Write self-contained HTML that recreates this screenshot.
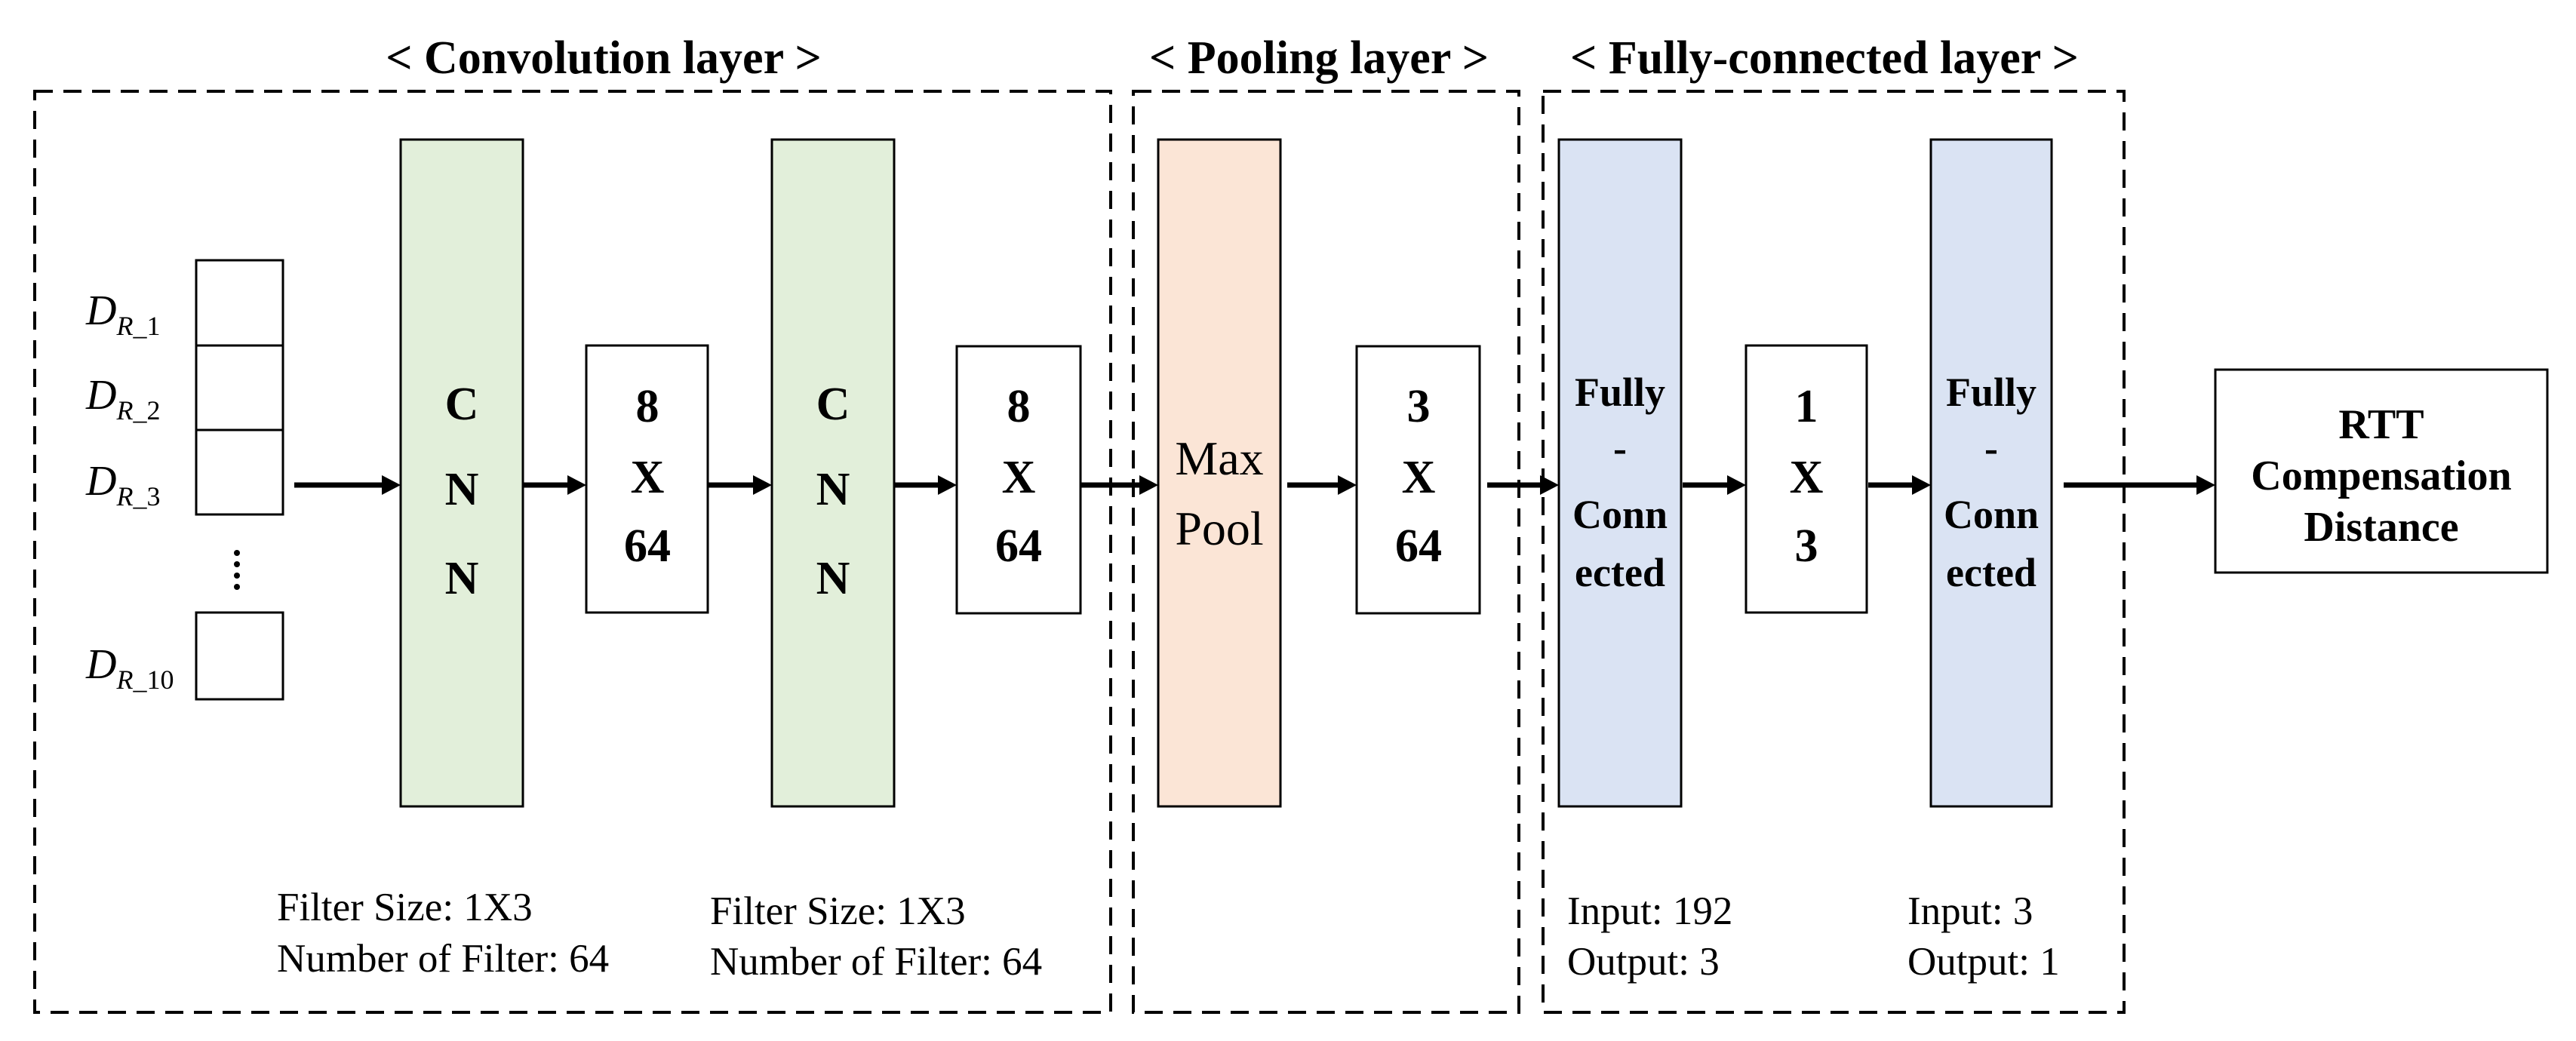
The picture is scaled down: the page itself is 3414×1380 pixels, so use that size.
<!DOCTYPE html>
<html><head><meta charset="utf-8"><style>
html,body{margin:0;padding:0;background:#fff;}
svg{display:block;}
text{font-family:"Liberation Serif",serif;}
.b{font-weight:bold;}
.m{font-family:"DejaVu Sans","Liberation Sans",sans-serif;}
</style></head><body>
<svg width="3414" height="1380" viewBox="0 0 3414 1380" xmlns="http://www.w3.org/2000/svg">
<!-- titles -->
<text x="800" y="97" font-size="62" class="b" text-anchor="middle">&lt; Convolution layer &gt;</text>
<text x="1748" y="97" font-size="62" class="b" text-anchor="middle">&lt; Pooling layer &gt;</text>
<text x="2418" y="97" font-size="62" class="b" text-anchor="middle">&lt; Fully-connected layer &gt;</text>
<!-- dashed boxes -->
<g fill="none" stroke="#000" stroke-width="4" stroke-dasharray="24 14">
<rect x="46" y="121" width="1426" height="1221"/>
<rect x="1502" y="121" width="511" height="1221"/>
<rect x="2045" y="121" width="770" height="1221"/>
</g>
<!-- input boxes -->
<g fill="#fff" stroke="#000" stroke-width="3">
<rect x="260" y="345" width="115" height="113"/>
<rect x="260" y="458" width="115" height="112"/>
<rect x="260" y="570" width="115" height="112"/>
<rect x="260" y="812" width="115" height="115"/>
</g>
<g fill="#000"><circle cx="314" cy="733" r="4"/><circle cx="314" cy="748" r="4"/><circle cx="314" cy="763" r="4"/><circle cx="314" cy="778" r="4"/></g>
<g class="m" font-size="56">
<text x="114" y="430"><tspan font-style="italic">D</tspan><tspan font-size="36" dy="14" font-style="italic">R</tspan><tspan font-size="36">_1</tspan></text>
<text x="114" y="542"><tspan font-style="italic">D</tspan><tspan font-size="36" dy="14" font-style="italic">R</tspan><tspan font-size="36">_2</tspan></text>
<text x="114" y="656"><tspan font-style="italic">D</tspan><tspan font-size="36" dy="14" font-style="italic">R</tspan><tspan font-size="36">_3</tspan></text>
<text x="114" y="899"><tspan font-style="italic">D</tspan><tspan font-size="36" dy="14" font-style="italic">R</tspan><tspan font-size="36">_10</tspan></text>
</g>
<!-- layers -->
<g stroke="#000" stroke-width="3">
<rect x="531" y="185" width="162" height="884" fill="#e2efda"/>
<rect x="1023" y="185" width="162" height="884" fill="#e2efda"/>
<rect x="777" y="458" width="161" height="354" fill="#fff"/>
<rect x="1268" y="459" width="164" height="354" fill="#fff"/>
<rect x="1535" y="185" width="162" height="884" fill="#fbe5d6"/>
<rect x="1798" y="459" width="163" height="354" fill="#fff"/>
<rect x="2066" y="185" width="162" height="884" fill="#dae3f3"/>
<rect x="2314" y="458" width="160" height="354" fill="#fff"/>
<rect x="2559" y="185" width="160" height="884" fill="#dae3f3"/>
<rect x="2936" y="490" width="440" height="269" fill="#fff"/>
</g>
<g class="b" font-size="62" text-anchor="middle" font-weight="bold">
<text x="612" y="556">C</text><text x="612" y="669">N</text><text x="612" y="787">N</text>
<text x="1104" y="556">C</text><text x="1104" y="669">N</text><text x="1104" y="787">N</text>
<text x="858" y="559">8</text><text x="858" y="653">X</text><text x="858" y="744">64</text>
<text x="1350" y="559">8</text><text x="1350" y="653">X</text><text x="1350" y="744">64</text>
<text x="1880" y="559">3</text><text x="1880" y="653">X</text><text x="1880" y="744">64</text>
<text x="2394" y="559">1</text><text x="2394" y="653">X</text><text x="2394" y="744">3</text>
</g>
<g font-size="64" text-anchor="middle"><text x="1616" y="629">Max</text><text x="1616" y="722">Pool</text></g>
<g font-size="54" font-weight="bold" text-anchor="middle">
<text x="2147" y="538">Fully</text><text x="2147" y="612">-</text><text x="2147" y="700">Conn</text><text x="2147" y="777">ected</text>
<text x="2639" y="538">Fully</text><text x="2639" y="612">-</text><text x="2639" y="700">Conn</text><text x="2639" y="777">ected</text>
</g>
<g font-size="56" font-weight="bold" text-anchor="middle">
<text x="3156" y="581">RTT</text><text x="3156" y="649">Compensation</text><text x="3156" y="717">Distance</text>
</g>
<!-- bottom texts -->
<g font-size="53">
<text x="367" y="1220">Filter Size: 1X3</text><text x="367" y="1288">Number of Filter: 64</text>
<text x="941" y="1225">Filter Size: 1X3</text><text x="941" y="1292">Number of Filter: 64</text>
<text x="2077" y="1225">Input: 192</text><text x="2077" y="1292">Output: 3</text>
<text x="2528" y="1225">Input: 3</text><text x="2528" y="1292">Output: 1</text>
</g>
<!-- arrows -->
<g stroke="#000" stroke-width="7">
<line x1="390" y1="643" x2="510" y2="643"/>
<line x1="693" y1="643" x2="757" y2="643"/>
<line x1="938" y1="643" x2="1003" y2="643"/>
<line x1="1185" y1="643" x2="1248" y2="643"/>
<line x1="1432" y1="643" x2="1515" y2="643"/>
<line x1="1706" y1="643" x2="1778" y2="643"/>
<line x1="1971" y1="643" x2="2046" y2="643"/>
<line x1="2230" y1="643" x2="2294" y2="643"/>
<line x1="2476" y1="643" x2="2539" y2="643"/>
<line x1="2735" y1="643" x2="2916" y2="643"/>
</g>
<g fill="#000">
<polygon points="531,643 506,630 506,656"/>
<polygon points="777,643 752,630 752,656"/>
<polygon points="1023,643 998,630 998,656"/>
<polygon points="1268,643 1243,630 1243,656"/>
<polygon points="1535,643 1510,630 1510,656"/>
<polygon points="1798,643 1773,630 1773,656"/>
<polygon points="2066,643 2041,630 2041,656"/>
<polygon points="2314,643 2289,630 2289,656"/>
<polygon points="2559,643 2534,630 2534,656"/>
<polygon points="2936,643 2911,630 2911,656"/>
</g>
</svg>
</body></html>
